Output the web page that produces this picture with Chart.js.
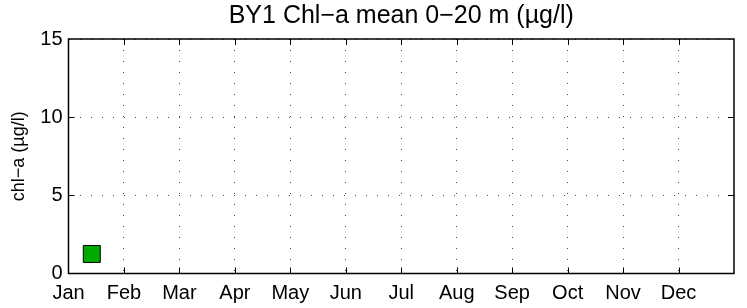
<!DOCTYPE html>
<html>
<head>
<meta charset="utf-8">
<script src="https://cdn.jsdelivr.net/npm/chart.js@4"></script>
<style>
  body { margin: 0; background: white; }
  canvas { display: block; }
</style>
</head>
<body>
<canvas id="myChart" width="747" height="308"></canvas>
<script>
const months = ["Jan", "Feb", "Mar", "Apr", "May", "Jun", "Jul", "Aug", "Sep", "Oct", "Nov", "Dec"];
const yTicks = [0, 5, 10, 15];
// sample position in months from 1 Jan, mean chl-a value
const sampleMonth = [0.42];
const sampleValue = [1.25];
const titleText = "BY1 Chl\u2212a mean 0\u221220 m (\u00b5g/l)";
const yLabel = "chl\u2212a (\u00b5g/l)";

Chart.defaults.font.family = "'Liberation Sans', Arial, sans-serif";
Chart.defaults.color = "#000";

let points = [];
for (let i = 0; i < sampleMonth.length; i++) {
    points.push({ x: sampleMonth[i], y: sampleValue[i] });
}

// white background, title over plot area, box and inward ticks like matlab
const plugin = {
    id: 'matlab_frame',
    beforeDraw: (chart) => {
        const ctx = chart.ctx;
        ctx.save();
        ctx.fillStyle = 'white';
        ctx.fillRect(0, 0, chart.width, chart.height);
        ctx.restore();
    },
    afterDraw: (chart) => {
        const ctx = chart.ctx;
        const a = chart.chartArea;
        const xs = chart.scales.x;
        const ys = chart.scales.y;
        const tl = 6;
        ctx.save();
        ctx.strokeStyle = '#000';
        ctx.lineWidth = 1.5;
        ctx.beginPath();
        ctx.rect(a.left, a.top, a.right - a.left, a.bottom - a.top);
        ctx.stroke();
        ctx.lineWidth = 1;
        ctx.beginPath();
        for (let i = 1; i < months.length; i++) {
            const px = Math.round(xs.getPixelForValue(i)) + 0.5;
            ctx.moveTo(px, a.bottom); ctx.lineTo(px, a.bottom - tl);
            ctx.moveTo(px, a.top); ctx.lineTo(px, a.top + tl);
        }
        for (let i = 1; i < yTicks.length - 1; i++) {
            const py = Math.round(ys.getPixelForValue(yTicks[i])) + 0.5;
            ctx.moveTo(a.left, py); ctx.lineTo(a.left + tl, py);
            ctx.moveTo(a.right, py); ctx.lineTo(a.right - tl, py);
        }
        ctx.stroke();
        ctx.fillStyle = '#000';
        ctx.font = "25px 'Liberation Sans', Arial, sans-serif";
        ctx.textAlign = 'center';
        ctx.textBaseline = 'alphabetic';
        ctx.fillText(titleText, (a.left + a.right) / 2, 23);
        ctx.restore();
    }
};

const ctx = document.getElementById("myChart").getContext("2d");
const myChart = new Chart(ctx, {
    type: "scatter",
    plugins: [plugin],
    data: {
        datasets: [{
            label: 'chl-a',
            data: points,
            pointStyle: 'rect',
            pointRadius: 12,
            pointHoverRadius: 12,
            backgroundColor: '#00aa00',
            borderColor: '#000',
            borderWidth: 1
        }]
    },
    options: {
        responsive: false,
        animation: false,
        layout: { padding: { top: 39, right: 4, left: 0, bottom: 0 } },
        plugins: {
            legend: { display: false },
            tooltip: { enabled: false }
        },
        scales: {
            x: {
                type: 'linear',
                min: 0,
                max: 12,
                afterBuildTicks: (scale) => {
                    scale.ticks = months.map((m, i) => ({ value: i }));
                },
                afterFit: (scale) => { scale.height = 34.5; },
                ticks: {
                    font: { size: 20 },
                    padding: 8,
                    maxRotation: 0,
                    autoSkip: false,
                    callback: (v) => months[v] || ''
                },
                grid: { color: '#444', lineWidth: 1, drawTicks: false },
                border: { display: false, dash: [1, 10] }
            },
            y: {
                min: 0,
                max: 15,
                afterBuildTicks: (scale) => {
                    scale.ticks = yTicks.map(v => ({ value: v }));
                },
                afterFit: (scale) => { scale.width = 68.5; },
                ticks: {
                    font: { size: 20 },
                    padding: 6
                },
                title: {
                    display: true,
                    text: yLabel,
                    font: { size: 18 },
                    padding: { top: 8, bottom: 0 }
                },
                grid: { color: '#444', lineWidth: 1, drawTicks: false },
                border: { display: false, dash: [1, 10] }
            }
        }
    }
});
</script>
</body>
</html>
